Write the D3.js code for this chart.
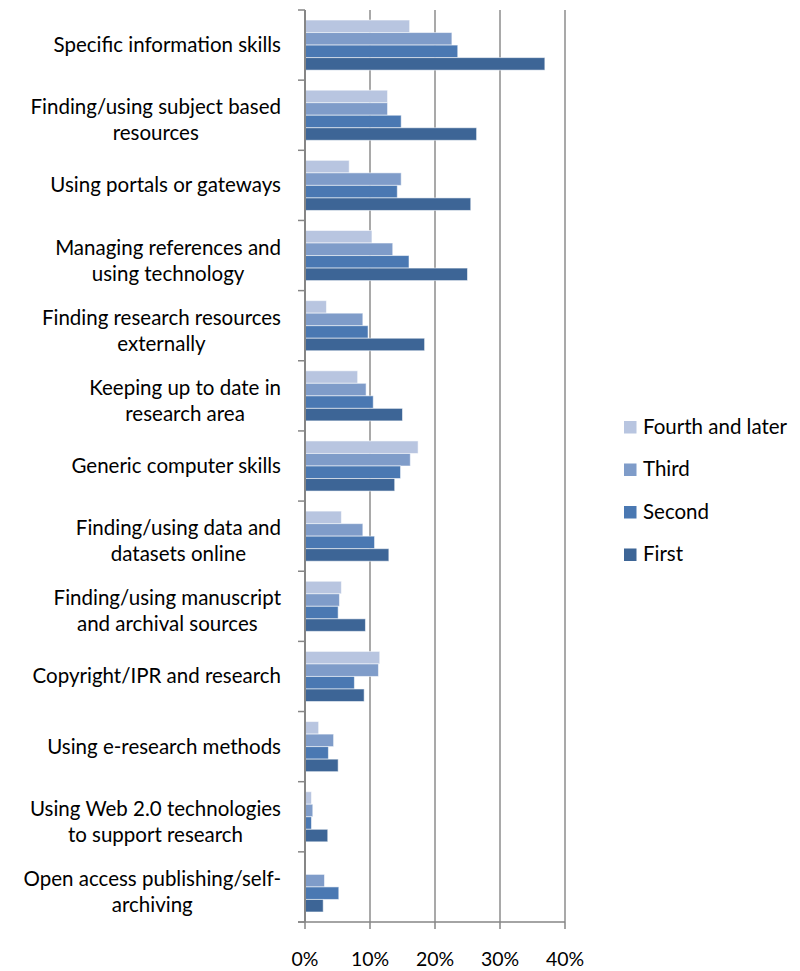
<!DOCTYPE html>
<html>
<head>
<meta charset="utf-8">
<script src="https://cdn.jsdelivr.net/npm/d3@7"></script>
<style>
  html, body { margin: 0; padding: 0; background: #fff; }
  svg { display: block; }
  text { font-family: Lato, "Open Sans", sans-serif; fill: #000; }
</style>
</head>
<body>
<svg id="chart" width="800" height="971"></svg>
<script>
// ---- Data ----
const categories = [
  "Specific information skills",
  "Finding/using subject based|resources",
  "Using portals or gateways",
  "Managing references and|using technology",
  "Finding research resources|externally",
  "Keeping up to date in|research area",
  "Generic computer skills",
  "Finding/using data and|datasets online",
  "Finding/using manuscript|and archival sources",
  "Copyright/IPR and research",
  "Using e-research methods",
  "Using Web 2.0 technologies|to support research",
  "Open access publishing/self-|archiving"
];
const seriesNames = ["Fourth and later", "Third", "Second", "First"];
const fourthAndLater = [16.1, 12.7, 6.8, 10.3, 3.3, 8.1, 17.4, 5.6, 5.6, 11.5, 2.1, 1.0, 0];
const third          = [22.6, 12.7, 14.8, 13.5, 8.9, 9.4, 16.2, 8.9, 5.3, 11.3, 4.4, 1.2, 3.0];
const second         = [23.5, 14.8, 14.2, 16.0, 9.7, 10.5, 14.7, 10.7, 5.1, 7.6, 3.6, 1.0, 5.2];
const first          = [36.9, 26.4, 25.5, 25.0, 18.4, 15.0, 13.8, 12.9, 9.3, 9.1, 5.1, 3.5, 2.8];
const xTicks = [0, 10, 20, 30, 40];

const seriesValues = [fourthAndLater, third, second, first];
const colors = ["#b8c5e0", "#7f9cc9", "#4a78b2", "#3d6596"];

// ---- Layout ----
const svg = d3.select("#chart");
const plotLeft = 305, plotRight = 565, plotTop = 10, plotBottom = 922;

const x = d3.scaleLinear().domain([0, 40]).range([plotLeft, plotRight]);
const y = d3.scaleBand().domain(categories).range([plotTop, plotBottom])
  .paddingInner(0.2857).paddingOuter(0.1429);
const ySub = d3.scaleBand().domain(seriesNames).range([0, y.bandwidth()]);
const step = y.step();

// Grid lines
svg.append("g").selectAll("line").data(xTicks.filter(d => d > 0)).join("line")
  .attr("x1", d => x(d)).attr("x2", d => x(d))
  .attr("y1", plotTop).attr("y2", plotBottom)
  .attr("stroke", "#8c8c8c").attr("stroke-width", 1.5);

// Bars
const groups = svg.append("g").selectAll("g").data(categories).join("g")
  .attr("transform", c => `translate(0,${y(c)})`);
groups.selectAll("rect")
  .data((c, i) => seriesNames.map((s, j) => ({ s, j, v: seriesValues[j][i] })))
  .join("rect")
  .attr("x", x(0))
  .attr("y", d => ySub(d.s))
  .attr("width", d => Math.max(0, x(d.v) - x(0)))
  .attr("height", ySub.bandwidth())
  .attr("fill", d => colors[d.j])
  .attr("stroke", d => d.v > 0 ? "rgba(255,255,255,0.55)" : "none")
  .attr("stroke-width", 1);

// Left axis line + category ticks
const axisCol = "#868686";
svg.append("line").attr("x1", plotLeft).attr("x2", plotLeft)
  .attr("y1", plotTop).attr("y2", plotBottom)
  .attr("stroke", axisCol).attr("stroke-width", 2);
const boundaries = categories.map(c => y(c) - (step - y.bandwidth()) / 2);
boundaries.push(plotBottom);
svg.append("g").selectAll("line").data(boundaries).join("line")
  .attr("x1", plotLeft - 7).attr("x2", plotLeft)
  .attr("y1", d => d).attr("y2", d => d)
  .attr("stroke", axisCol).attr("stroke-width", 1.5);

// Bottom axis
svg.append("line").attr("x1", plotLeft - 7).attr("x2", plotRight)
  .attr("y1", plotBottom).attr("y2", plotBottom)
  .attr("stroke", axisCol).attr("stroke-width", 1.5);
svg.append("g").selectAll("line").data(xTicks).join("line")
  .attr("x1", d => x(d)).attr("x2", d => x(d))
  .attr("y1", plotBottom).attr("y2", plotBottom + 7)
  .attr("stroke", axisCol).attr("stroke-width", 1.5);
svg.append("g").selectAll("text").data(xTicks).join("text")
  .attr("x", d => x(d)).attr("y", 966)
  .attr("text-anchor", "middle")
  .style("font-size", "19.5px")
  .text(d => d + "%");

// Category labels (centered block, right edge at 281)
const labelRight = 281;
const labelG = svg.append("g");
categories.forEach(c => {
  const lines = c.split("|");
  const cy = y(c) + y.bandwidth() / 2;
  const t = labelG.append("text").attr("text-anchor", "middle").style("font-size", "20.5px");
  const spans = lines.map((ln, i) => t.append("tspan").text(ln));
  const w = d3.max(spans, s => s.node().getComputedTextLength());
  const cx = labelRight - w / 2;
  if (lines.length === 1) {
    spans[0].attr("x", cx).attr("y", cy + 7);
  } else {
    spans[0].attr("x", cx).attr("y", cy - 1);
    spans[1].attr("x", cx).attr("y", cy + 25);
  }
});

// Legend
const legend = svg.append("g").selectAll("g").data(seriesNames).join("g")
  .attr("transform", (d, i) => `translate(624,${421 + i * 42.5})`);
legend.append("rect").attr("width", 12.5).attr("height", 12.5)
  .attr("fill", (d, i) => colors[i]);
legend.append("text").attr("x", 19).attr("y", 12.5)
  .style("font-size", "20.5px").text(d => d);
</script>
</body>
</html>
